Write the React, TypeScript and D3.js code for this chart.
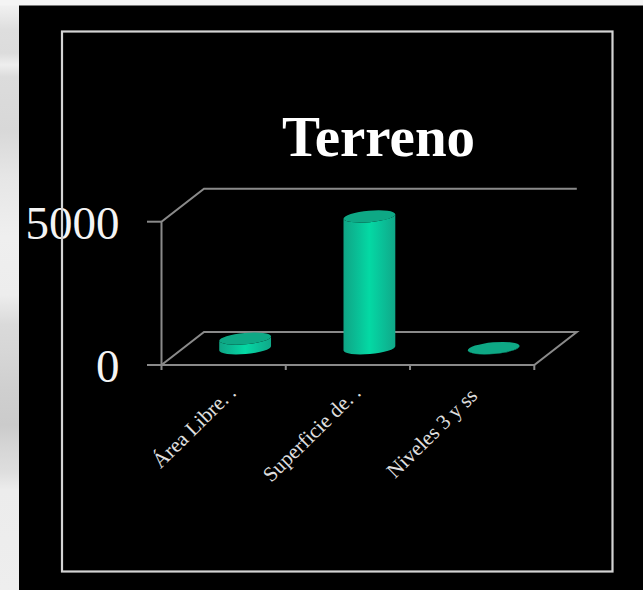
import React from "react";
import * as d3 from "d3";

const categories = ["Área Libre. .", "Superficie de. .", "Niveles 3 y ss"];
const values = [340, 4600, 10];
const yTicks = [0, 5000];
const chartTitle = "Terreno";

const backdropStops: [number, string][] = [
  [0, "#f4f4f4"], [0.02, "#ececec"], [0.05, "#dedede"], [0.09, "#dcdcdc"], [0.11, "#eeeeee"],
  [0.13, "#dcdcdc"], [0.22, "#d8d8d8"], [0.3, "#e6e6e6"], [0.4, "#efefef"], [0.5, "#ededed"],
  [0.55, "#dadada"], [0.6, "#d6d6d6"], [0.66, "#cfcfcf"], [0.72, "#cbcbcb"], [0.76, "#d6d6d6"],
  [0.8, "#dedede"], [0.83, "#ececec"], [1, "#eeeeee"],
];
const bodyStops: [number, string][] = [
  [0, "#10a585"], [0.25, "#0abd95"], [0.5, "#04d9a4"], [0.75, "#0ac098"], [1, "#10a888"],
];
// Offsets of each rotated label's end from its band centre
const labelAnchors: [number, number][] = [[13.5, 394], [14, 394], [6.5, 397]];

const W = 643, H = 590;
const front = { left: 161.5, right: 534.3, base: 365, top: 221.7 };
const depth = { x: 42.5, y: -33 };
const barDepth = { x: 21.5, y: -16.7 };
const rx = 26, ry = 5.7, tilt = 5;

const x = d3.scaleBand<string>().domain(categories).range([front.left, front.right]);
const y = d3.scaleLinear().domain([0, 5000]).range([front.base, front.top]);

const tiltRad = (tilt * Math.PI) / 180;
const dx = rx * Math.cos(tiltRad);
const dy = rx * Math.sin(tiltRad);

const axisStroke = "#8a8a8a";
const serif = "'Liberation Serif', 'Times New Roman', serif";

function Cylinder({ cx, top, bottom }: { cx: number; top: number; bottom: number }) {
  const body = [
    `M${cx - dx},${top + dy}`,
    `L${cx - dx},${bottom + dy}`,
    `A${rx},${ry} ${-tilt} 0 0 ${cx + dx},${bottom - dy}`,
    `L${cx + dx},${top - dy}`,
    `A${rx},${ry} ${-tilt} 0 1 ${cx - dx},${top + dy}`,
    "Z",
  ].join(" ");
  return (
    <g>
      <path d={body} fill="url(#cylinderBody)" />
      <ellipse cx={cx} cy={top} rx={rx} ry={ry} fill="#0ea885" transform={`rotate(${-tilt} ${cx} ${top})`} />
    </g>
  );
}

export default function App() {
  const floorY = front.base + barDepth.y;
  const backLeft = front.left + depth.x;
  const backRight = front.right + depth.x;
  const backBase = front.base + depth.y;
  const backTop = front.top + depth.y;
  const boundaries = [...categories.map((c) => x(c) as number), front.right];

  return (
    <svg width={W} height={H} style={{ position: "fixed", left: 0, top: 0, display: "block" }}>
      <defs>
        <linearGradient id="backdrop" x1="0" y1="0" x2="0" y2="1">
          {backdropStops.map(([o, c]) => <stop key={o} offset={o} stopColor={c} />)}
        </linearGradient>
        <linearGradient id="cylinderBody" x1="0" y1="0" x2="1" y2="0">
          {bodyStops.map(([o, c]) => <stop key={o} offset={o} stopColor={c} />)}
        </linearGradient>
      </defs>
      <rect width={W} height={H} fill="url(#backdrop)" />
      <rect x={0} y={0} width={W} height={5.5} fill="#f4f4f4" />
      <rect x={19} y={5.5} width={W - 19} height={H - 5.5} fill="#000" />

      <text x={378.5} y={155.5} textAnchor="middle" fill="#fff" fontFamily={serif} fontWeight="bold" fontSize={57}>
        {chartTitle}
      </text>

      {/* Walls and floor of the 3-D plot box */}
      <g fill="none" stroke={axisStroke} strokeWidth={2}>
        <path d={`M${front.left},${y(0)} V${y(5000)} L${backLeft},${backTop} H${backRight}`} />
        <path d={`M${front.left},${y(0)} H${front.right} L${backRight},${backBase} H${backLeft} Z`} />
        {yTicks.map((t) => <path key={t} d={`M${front.left - 14.5},${y(t)} H${front.left}`} />)}
        {boundaries.map((b) => <path key={b} d={`M${b},${front.base} V${front.base + 5}`} />)}
      </g>

      {yTicks.map((t) => (
        <text key={t} x={119.5} y={y(t) + 17} textAnchor="end" fill="#f4f4f4" fontFamily={serif} fontSize={47}>
          {t}
        </text>
      ))}

      {/* The frame passes over the tick labels */}
      <rect x={62} y={31.5} width={550.5} height={540} fill="none" stroke="#d4d4d4" strokeWidth={2.2} />

      {categories.map((c, i) => {
        const cx = (x(c) as number) + x.bandwidth() / 2 + barDepth.x;
        return <Cylinder key={c} cx={cx} bottom={floorY} top={y(values[i]) + barDepth.y} />;
      })}

      {categories.map((c, i) => {
        const [offset, endY] = labelAnchors[i];
        const ax = (x(c) as number) + x.bandwidth() / 2 + offset;
        return (
          <text key={c} transform={`translate(${ax},${endY}) rotate(-44.5)`} textAnchor="end"
            fill="#e0e0e0" fontFamily={serif} fontSize={21}>
            {c}
          </text>
        );
      })}
    </svg>
  );
}
